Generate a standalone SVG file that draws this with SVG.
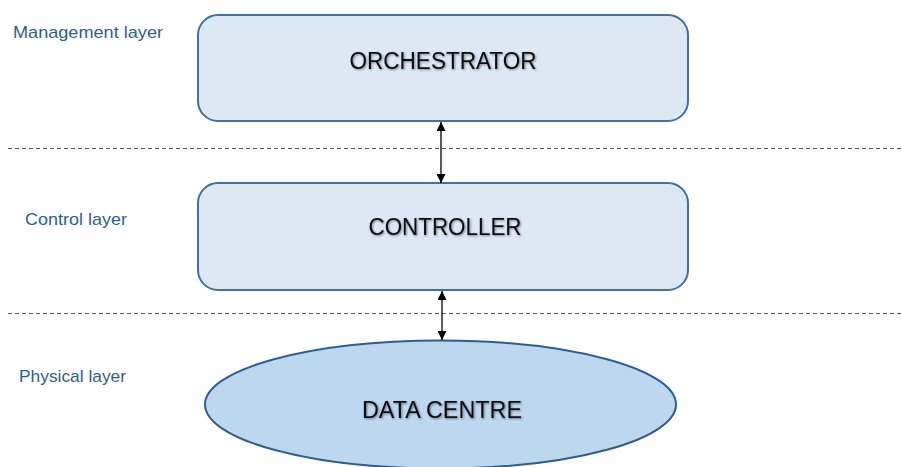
<svg xmlns="http://www.w3.org/2000/svg" width="901" height="467" viewBox="0 0 901 467">
  <style>
    .box { fill: #DDE8F5; stroke: #41719C; stroke-width: 2; }
    .disk { fill: #BDD7EE; stroke: #2F5E8E; stroke-width: 2; }
    .title { font-family: "Liberation Sans", Arial, sans-serif; font-size: 24.5px; fill: #111; text-anchor: middle; filter: url(#shade); }
    .layer { font-family: "Liberation Sans", Arial, sans-serif; font-size: 17px; fill: #2F5E8E; }
    .sep { stroke: #555; stroke-width: 1; stroke-dasharray: 4 3; fill: none; }
    .link { stroke: #000; stroke-width: 1.3; fill: none; marker-start: url(#head); marker-end: url(#head); }
  </style>
  <defs>
    <marker id="head" viewBox="0 0 10 10" refX="10" refY="5" markerWidth="10" markerHeight="9" markerUnits="userSpaceOnUse" orient="auto-start-reverse">
      <path d="M0,0 L10,5 L0,10 z" fill="#000"/>
    </marker>
    <!-- soft grey shadow behind the node titles -->
    <filter id="shade" x="-10%" y="-30%" width="120%" height="160%">
      <feGaussianBlur in="SourceAlpha" stdDeviation="0.8"/>
      <feOffset dx="0.8" dy="0.8" result="b"/>
      <feComponentTransfer in="b" result="s">
        <feFuncA type="linear" slope="0.45"/>
      </feComponentTransfer>
      <feMerge>
        <feMergeNode in="s"/>
        <feMergeNode in="SourceGraphic"/>
      </feMerge>
    </filter>
  </defs>
  <rect width="901" height="467" fill="#fff"/>

  <!-- layer separators and labels -->
  <g id="layers">
    <line class="sep" x1="8" y1="148.5" x2="901" y2="148.5"/>
    <line class="sep" x1="8" y1="313.5" x2="901" y2="313.5"/>
    <text class="layer" x="13" y="38" textLength="150" lengthAdjust="spacingAndGlyphs">Management layer</text>
    <text class="layer" x="25" y="225" textLength="102" lengthAdjust="spacingAndGlyphs">Control layer</text>
    <text class="layer" x="19" y="382" textLength="107" lengthAdjust="spacingAndGlyphs">Physical layer</text>
  </g>

  <g id="orchestrator">
    <rect class="box" x="198" y="15" width="490" height="106" rx="20" ry="20"/>
    <text class="title" x="443" y="69" textLength="187" lengthAdjust="spacingAndGlyphs">ORCHESTRATOR</text>
  </g>

  <g id="controller">
    <rect class="box" x="198" y="183" width="490" height="107" rx="20" ry="20"/>
    <text class="title" x="445" y="235" textLength="153" lengthAdjust="spacingAndGlyphs">CONTROLLER</text>
  </g>

  <g id="data-centre">
    <ellipse class="disk" cx="440.5" cy="404.5" rx="235.5" ry="64"/>
    <text class="title" x="442" y="418" textLength="160" lengthAdjust="spacingAndGlyphs">DATA CENTRE</text>
  </g>

  <g id="connectors">
    <line class="link" x1="441" y1="122" x2="441" y2="183"/>
    <line class="link" x1="442" y1="291" x2="442" y2="340"/>
  </g>
</svg>
